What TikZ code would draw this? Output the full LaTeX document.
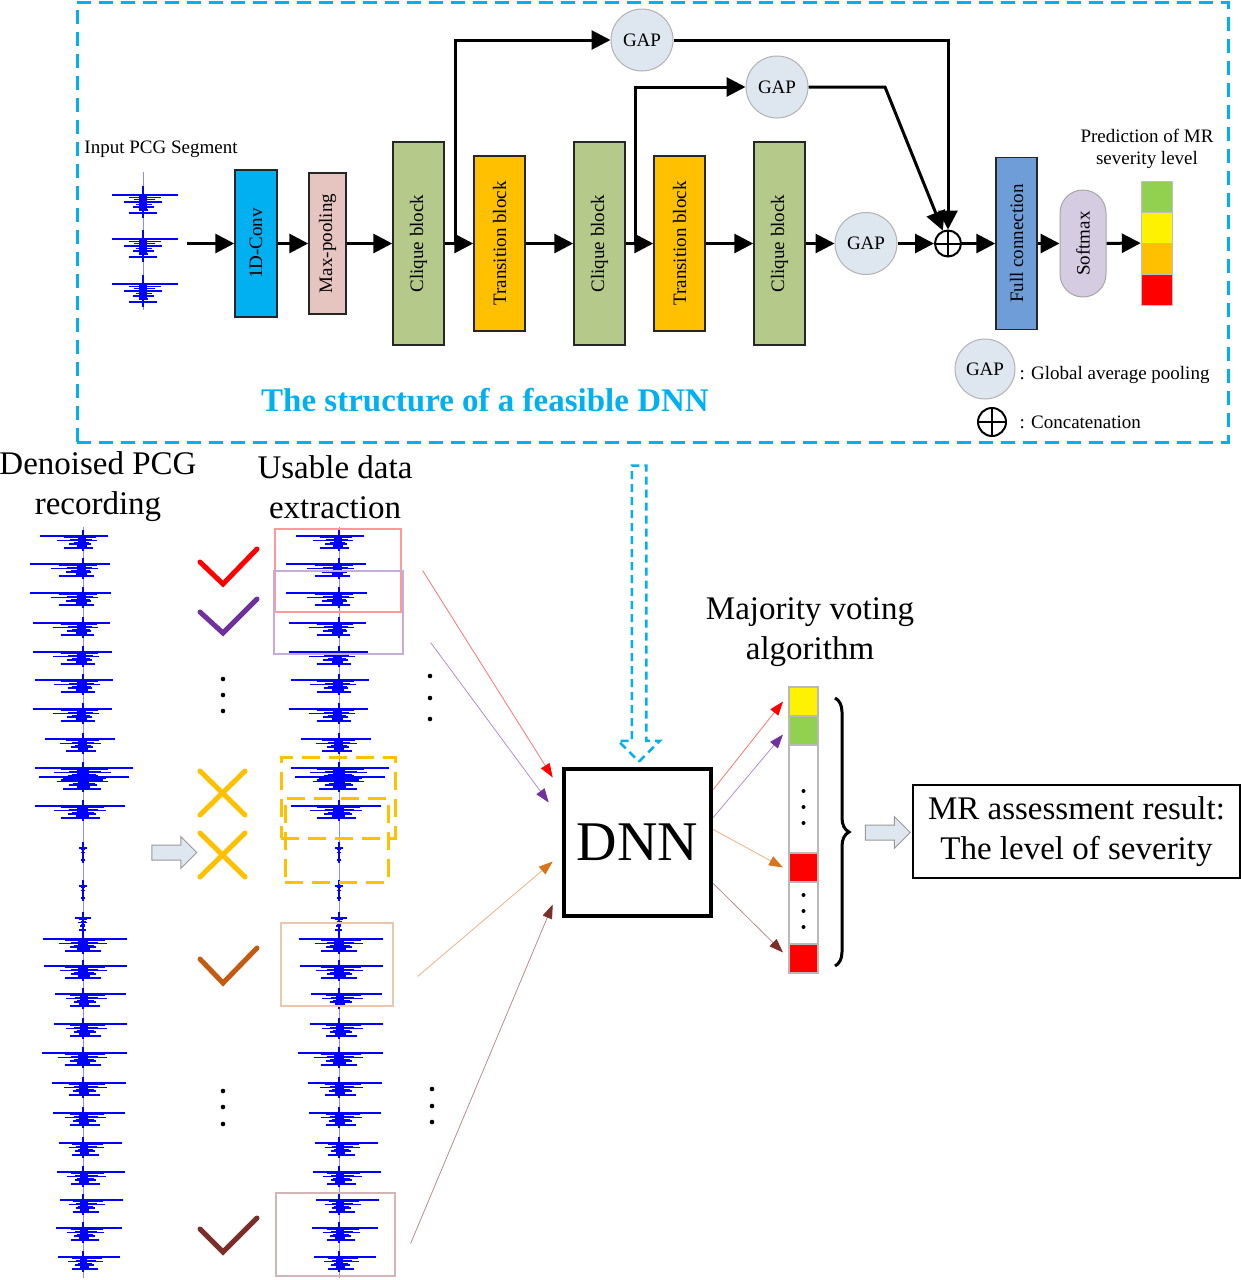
\documentclass[tikz,border=0pt]{standalone}
\usepackage{fontspec}
\setmainfont{Liberation Serif}
\usepackage{graphicx}
\usetikzlibrary{arrows.meta,positioning,calc,shapes.arrows,decorations.pathreplacing}

\definecolor{frameblue}{RGB}{0,176,240}
\definecolor{convblue}{RGB}{0,176,240}
\definecolor{poolpink}{RGB}{230,196,192}
\definecolor{cliquegreen}{RGB}{181,202,138}
\definecolor{transorange}{RGB}{255,192,0}
\definecolor{gapfill}{RGB}{222,230,240}
\definecolor{fcblue}{RGB}{111,157,216}
\definecolor{softlilac}{RGB}{214,204,226}
\definecolor{levelgreen}{RGB}{146,208,80}
\definecolor{checkpurple}{RGB}{112,48,160}
\definecolor{checkorange}{RGB}{197,90,17}
\definecolor{voteorange}{RGB}{217,115,28}
\definecolor{checkbrown}{RGB}{122,47,42}

\tikzset{
    small-text/.style = {font=\fontsize{19}{22}\selectfont},
    big-text/.style = {font=\fontsize{33}{40}\selectfont, align=center},
    layer-box/.style = {draw=black!85, line width=1.5pt, rectangle, inner sep=0pt, small-text},
    gap-node/.style = {circle, draw=gray!60, fill=gapfill, line width=1pt, minimum size=62pt, inner sep=0pt, small-text},
    plus-node/.style = {circle, draw=black, line width=2pt, minimum size=26pt, inner sep=0pt,
        path picture={\draw[line width=2pt] (path picture bounding box.north) -- (path picture bounding box.south)
            (path picture bounding box.west) -- (path picture bounding box.east);}},
    flow-arrow/.style = {line width=3pt, -{Triangle[length=19pt,width=19pt]}},
    frame-box/.style = {draw=frameblue, line width=3pt, dash pattern=on 14pt off 8pt, rectangle, inner sep=0pt},
    wave-line/.style = {draw=blue, line width=1.2pt},
    wave-axis/.style = {draw=blue!45, line width=0.8pt},
    pics/pcg-beat/.style 2 args = {code = {
        \draw[wave-line, line width=1.5pt] (-#1,0) -- (#2,0);
        \draw[wave-line] ({-0.45*#1},1.6) -- ({0.5*#2},1.6);
        \draw[wave-line] ({-0.3*#1},3.2) -- ({0.35*#2},3.2);
        \draw[wave-line] ({-0.6*#1},4.6) -- ({0.55*#2},4.6);
        \draw[wave-line] ({-0.22*#1},6.2) -- ({0.25*#2},6.2);
        \draw[wave-line] ({-0.32*#1},8) -- ({0.3*#2},8);
        \draw[wave-line] ({-0.14*#1},10) -- ({0.15*#2},10);
        \draw[wave-line, line width=1.4pt] ({-0.45*#1},12) -- ({0.4*#2},12);
        \fill[blue] ({-0.12*#1},-1) rectangle ({0.12*#2},9);
        \draw[blue, line width=2pt] (0,-6) -- (0,15);
    }},
    pick-box/.style = {draw=#1, line width=1.2pt, rectangle, inner sep=0pt},
    drop-box/.style = {draw=transorange, line width=3pt, dash pattern=on 18pt off 9pt, rectangle, inner sep=0pt},
    check-mark/.style = {draw=#1, line width=5pt, line cap=round},
    cross-mark/.style = {draw=transorange, line width=5pt, line cap=round},
    vote-arrow/.style = {draw=#1!55, line width=0.8pt, -{Triangle[length=14pt,width=10pt,color=#1]}},
    vote-cell/.style = {draw=gray!55, line width=1.2pt, rectangle, minimum width=29pt, inner sep=0pt, outer sep=0pt},
    vote-brace/.style = {decorate, decoration={brace, amplitude=14pt}, line width=3pt},
    hollow-arrow/.style = {single arrow, draw=gray!80, fill=gapfill, line width=1pt, minimum height=45pt,
        inner xsep=0pt, inner ysep=7pt, single arrow head extend=8.5pt, single arrow head indent=0pt},
}

\begin{document}
\begin{tikzpicture}[x=1pt,y=-1pt]
\useasboundingbox (0,0) rectangle (1241,1280);
\node[frame-box, minimum width=1151pt, minimum height=440pt] (frame) at (652.5,222) {};

\node[small-text] (input-label) at (161,149) {Input PCG Segment};
\draw[wave-axis] (143,172) -- (143,310);
\foreach \y in {195,239,284}
    \pic[yscale=1.5] at (143,\y) {pcg-beat={31}{35}};
\coordinate (wave-in) at (187,243.5);

\node[layer-box, fill=convblue, minimum width=42pt, minimum height=147pt] (conv) at (256,243.5) {\rotatebox{90}{1D-Conv}};
\node[layer-box, fill=poolpink, minimum width=37pt, minimum height=141pt] (pool) at (327.5,243.5) {\rotatebox{90}{Max-pooling}};
\node[layer-box, fill=cliquegreen, minimum width=51pt, minimum height=203pt] (clique1) at (418.5,243.5) {\rotatebox{90}{Clique block}};
\node[layer-box, fill=transorange, minimum width=51pt, minimum height=175pt] (trans1) at (499.5,243.5) {\rotatebox{90}{Transition block}};
\node[layer-box, fill=cliquegreen, minimum width=51pt, minimum height=203pt] (clique2) at (599.5,243.5) {\rotatebox{90}{Clique block}};
\node[layer-box, fill=transorange, minimum width=51pt, minimum height=175pt] (trans2) at (679.5,243.5) {\rotatebox{90}{Transition block}};
\node[layer-box, fill=cliquegreen, minimum width=51pt, minimum height=203pt] (clique3) at (779.5,243.5) {\rotatebox{90}{Clique block}};
\node[gap-node] (gap-main) at (866,243.5) {GAP};
\node[plus-node] (plus) at (948,243.5) {};
\node[layer-box, fill=fcblue, minimum width=41pt, minimum height=172pt] (fc) at (1016.5,243.5) {\rotatebox{90}{Full connection}};
\node[layer-box, draw=gray!70, line width=1pt, fill=softlilac, rounded corners=23pt, minimum width=46pt, minimum height=107pt] (softmax) at (1083,243.5) {\rotatebox{90}{Softmax}};
\node[inner sep=0pt, minimum width=31pt, minimum height=124pt] (pred-bar) at (1156.5,243) {};
\foreach \c [count=\i from 0] in {levelgreen, yellow, transorange, red}
    \filldraw[fill=\c, draw=gray!50, line width=0.5pt] ($(pred-bar.north west)+(0,31*\i)$) rectangle ++(31,31);
\node[small-text, align=center] (pred-label) at (1147,149) {Prediction of MR\\severity level};

\node[gap-node] (gap-top) at (642,40) {GAP};
\node[gap-node] (gap-mid) at (777,87) {GAP};
\coordinate (split1) at (455,243.5);
\coordinate (split2) at (635,243.5);
\coordinate (bend2) at (885,87);

\draw[flow-arrow] (wave-in) -- (conv);
\foreach \a/\b in {conv/pool, pool/clique1, clique1/trans1, trans1/clique2, clique2/trans2,
    trans2/clique3, clique3/gap-main, gap-main/plus, plus/fc, fc/softmax, softmax/pred-bar}
    \draw[flow-arrow] (\a) -- (\b);
\draw[flow-arrow] (split1) |- (gap-top);
\draw[flow-arrow] (gap-top) -| (plus);
\draw[flow-arrow] (split2) |- (gap-mid);
\draw[flow-arrow] (gap-mid) -- (bend2) -- (plus);

\node[gap-node, minimum size=60pt] (gap-key) at (985,369) {GAP};
\node[small-text, anchor=west] (gap-key-text) at (1016,375) {: Global average pooling};
\node[plus-node, minimum size=28pt] (plus-key) at (992,422) {};
\node[small-text, anchor=west] (plus-key-text) at (1016,422) {: Concatenation};
\node[font=\fontsize{33}{40}\selectfont\bfseries, text=frameblue] (frame-title) at (485,400) {The structure of a feasible DNN};

\node[big-text] (raw-label) at (98,487) {Denoised PCG\\recording};
\node[big-text] (use-label) at (335,487) {Usable data\\extraction};
\foreach \cx in {83,339} {
    \draw[wave-axis] (\cx,527) -- (\cx,1278);
    \foreach \y/\lw/\rw in {536/43/25, 564/53/27, 593/53/28, 623/50/27, 652/50/29, 680/48/30,
        709/50/29, 739/38/32, 768/48/50, 777/44/46, 806/48/42, 848/4/4, 886/4/4, 918/8/8,
        939/40/44, 966/39/44, 994/28/43, 1024/29/44, 1053/41/44, 1083/31/43, 1113/30/42,
        1143/24/39, 1172/26/42, 1200/23/40, 1228/27/39, 1257/25/37}
        \pic at (\cx,\y) {pcg-beat={\lw}{\rw}};
}

\node[pick-box=red!40, minimum width=126pt, minimum height=83pt] (pick-red) at (338,570.5) {};
\node[pick-box=checkpurple!40, minimum width=129pt, minimum height=83pt] (pick-purple) at (338.5,612.5) {};
\node[drop-box, minimum width=114pt, minimum height=81pt] (drop-a) at (338,797.5) {};
\node[drop-box, minimum width=103pt, minimum height=84pt] (drop-b) at (336.5,840) {};
\node[pick-box=checkorange!35, minimum width=112pt, minimum height=83pt] (pick-orange) at (337,964.5) {};
\node[pick-box=checkbrown!35, minimum width=119pt, minimum height=83pt] (pick-brown) at (335.5,1234.5) {};

\draw[check-mark=red] (200,562) -- (223,584) -- (257,549);
\draw[check-mark=checkpurple] (200,612) -- (223,633) -- (257,599);
\draw[check-mark=checkorange] (200,959) -- (223,983) -- (257,948);
\draw[check-mark=checkbrown] (200,1229) -- (223,1252) -- (257,1218);
\foreach \y in {793,855}
    \draw[cross-mark] (200,\y-22) -- (245,\y+22) (245,\y-22) -- (200,\y+22);
\foreach \x/\y in {223/679, 223/695, 223/711, 430/676, 430/698, 430/719,
    223/1091, 223/1107, 223/1124, 432/1089, 432/1106, 432/1122}
    \fill (\x,\y) circle[radius=2.3pt];
\node[hollow-arrow] (raw-to-use) at (170.5,852.5) {};

\node[draw, line width=4.5pt, minimum size=147pt, inner sep=0pt, font=\fontsize{56}{60}\selectfont] (dnn) at (637.5,842.5) {DNN};
\node[single arrow, draw=frameblue, line width=2.5pt, dash pattern=on 8pt off 5pt, rotate=-90, minimum height=296pt,
    inner xsep=0pt, inner ysep=6pt, single arrow head extend=13.5pt] (to-dnn) at (639,610) {};

\draw[vote-arrow=red] ([xshift=21pt]pick-red.east) -- ([xshift=-9pt,yshift=65pt]dnn.west);
\draw[vote-arrow=checkpurple] ([xshift=27pt,yshift=-30pt]pick-purple.east) -- ([xshift=-13pt,yshift=40pt]dnn.west);
\draw[vote-arrow=voteorange] ([xshift=24pt,yshift=-12pt]pick-orange.east) -- ([xshift=-9pt,yshift=-19pt]dnn.west);
\draw[vote-arrow=checkbrown] ([xshift=15pt,yshift=-9pt]pick-brown.east) -- ([xshift=-9pt,yshift=-62pt]dnn.west);

\node[big-text] (vote-label) at (810,632) {Majority voting\\algorithm};
\node[vote-cell, fill=yellow, minimum height=29pt] (vote-yellow) at (803.5,701.5) {};
\node[vote-cell, fill=levelgreen, minimum height=29pt, below=0pt of vote-yellow] (vote-green) {};
\node[vote-cell, fill=white, minimum height=108pt, below=0pt of vote-green] (vote-gap-a) {};
\node[vote-cell, fill=red, minimum height=29pt, below=0pt of vote-gap-a] (vote-red-a) {};
\node[vote-cell, fill=white, minimum height=62pt, below=0pt of vote-red-a] (vote-gap-b) {};
\node[vote-cell, fill=red, minimum height=29pt, below=0pt of vote-gap-b] (vote-red-b) {};
\foreach \d in {-16,0,16} {
    \fill ($(vote-gap-a.center)+(0,8+\d)$) circle[radius=2pt];
    \fill ($(vote-gap-b.center)+(0,-2+\d)$) circle[radius=2pt];
}
\draw[vote-arrow=red] ([yshift=53pt]dnn.east) -- ([xshift=-6pt]vote-yellow.west);
\draw[vote-arrow=checkpurple] ([yshift=25pt]dnn.east) -- ([xshift=-6pt,yshift=-4pt]vote-green.west);
\draw[vote-arrow=voteorange] ([yshift=13pt]dnn.east) -- ([xshift=-6pt]vote-red-a.west);
\draw[vote-arrow=checkbrown] ([yshift=-41pt]dnn.east) -- ([xshift=-6pt,yshift=6pt]vote-red-b.west);
\draw[vote-brace] (835,698) -- (835,966);

\node[hollow-arrow] (vote-to-result) at (884,832.5) {};
\node[draw, line width=1.5pt, minimum width=327pt, minimum height=93pt, big-text] (result) at (1076.5,831.5) {MR assessment result:\\The level of severity};
\end{tikzpicture}
\end{document}
